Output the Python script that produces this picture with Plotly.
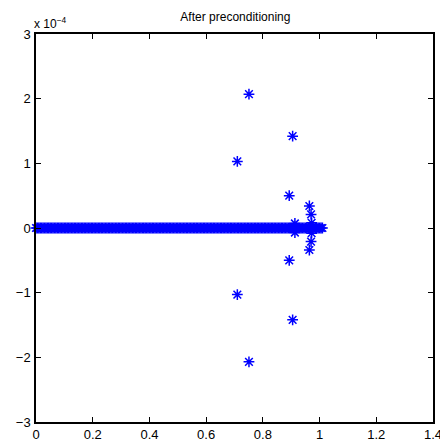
import plotly.graph_objects as go

# Isolated eigenvalues (real, imaginary parts)
outlier_re = [0.751, 0.905, 0.710, 0.710, 0.905, 0.751, 0.893, 0.964, 0.970, 0.972, 0.913, 0.913, 0.972, 0.970, 0.964, 0.893]
outlier_im = [2.07e-4, 1.42e-4, 1.03e-4, -1.03e-4, -1.42e-4, -2.07e-4, 0.50e-4, 0.34e-4, 0.21e-4, 0.08e-4, 0.07e-4, -0.07e-4, -0.08e-4, -0.21e-4, -0.34e-4, -0.50e-4]

# Clustered eigenvalues along the real axis
band_re = [0.000, 0.005, 0.010, 0.015, 0.020, 0.025, 0.030, 0.035, 0.040, 0.045,
           0.050, 0.055, 0.060, 0.065, 0.070, 0.075, 0.080, 0.085, 0.090, 0.095,
           0.100, 0.105, 0.110, 0.115, 0.120, 0.125, 0.130, 0.135, 0.140, 0.145,
           0.150, 0.155, 0.160, 0.165, 0.170, 0.175, 0.180, 0.185, 0.190, 0.195,
           0.200, 0.205, 0.210, 0.215, 0.220, 0.225, 0.230, 0.235, 0.240, 0.245,
           0.250, 0.255, 0.260, 0.265, 0.270, 0.275, 0.280, 0.285, 0.290, 0.295,
           0.300, 0.305, 0.310, 0.315, 0.320, 0.325, 0.330, 0.335, 0.340, 0.345,
           0.350, 0.355, 0.360, 0.365, 0.370, 0.375, 0.380, 0.385, 0.390, 0.395,
           0.400, 0.405, 0.410, 0.415, 0.420, 0.425, 0.430, 0.435, 0.440, 0.445,
           0.450, 0.455, 0.460, 0.465, 0.470, 0.475, 0.480, 0.485, 0.490, 0.495,
           0.500, 0.505, 0.510, 0.515, 0.520, 0.525, 0.530, 0.535, 0.540, 0.545,
           0.550, 0.555, 0.560, 0.565, 0.570, 0.575, 0.580, 0.585, 0.590, 0.595,
           0.600, 0.605, 0.610, 0.615, 0.620, 0.625, 0.630, 0.635, 0.640, 0.645,
           0.650, 0.655, 0.660, 0.665, 0.670, 0.675, 0.680, 0.685, 0.690, 0.695,
           0.700, 0.705, 0.710, 0.715, 0.720, 0.725, 0.730, 0.735, 0.740, 0.745,
           0.750, 0.755, 0.760, 0.765, 0.770, 0.775, 0.780, 0.785, 0.790, 0.795,
           0.800, 0.805, 0.810, 0.815, 0.820, 0.825, 0.830, 0.835, 0.840, 0.845,
           0.850, 0.855, 0.860, 0.865, 0.870, 0.875, 0.880, 0.885, 0.890, 0.895,
           0.900, 0.905, 0.910, 0.915, 0.920, 0.925, 0.930, 0.935, 0.940, 0.945,
           0.950, 0.955, 0.960, 0.965, 0.970, 0.975, 0.980, 0.985, 0.990, 0.995,
           1.000, 1.005, 1.010]
band_im = [0.0] * len(band_re)

x_ticks = [0, 0.2, 0.4, 0.6, 0.8, 1, 1.2, 1.4]
x_ticktext = ["0", "0.2", "0.4", "0.6", "0.8", "1", "1.2", "1.4"]
y_ticks = [-3e-4, -2e-4, -1e-4, 0, 1e-4, 2e-4, 3e-4]
y_ticktext = ["\u22123", "\u22122", "\u22121", "0", "1", "2", "3"]

blue = "rgb(0,0,255)"
marker = dict(symbol="asterisk-open", size=9, color=blue, line=dict(color=blue, width=1.5))

fig = go.Figure()
fig.add_trace(go.Scatter(x=band_re, y=band_im, mode="markers", marker=marker, showlegend=False, cliponaxis=False))
fig.add_trace(go.Scatter(x=outlier_re, y=outlier_im, mode="markers", marker=marker, showlegend=False))

FAM = "Liberation Sans, Arial, sans-serif"
font = dict(family=FAM, size=13, color="black")
axis_common = dict(showgrid=False, zeroline=False, showline=True, linecolor="black", linewidth=1.5,
                   mirror="ticks", ticks="inside", ticklen=5, tickcolor="black", tickwidth=1,
                   tickfont=font, automargin=False, ticklabeloverflow="allow")

fig.update_layout(
    width=440, height=444,
    margin=dict(l=36, r=7, t=34, b=22, autoexpand=False),
    paper_bgcolor="white", plot_bgcolor="white",
    title=dict(text="After preconditioning", x=0.535, xanchor="center", y=0.962, yanchor="middle",
               font=dict(family=FAM, size=12, color="black")),
    xaxis=dict(range=[0, 1.4], tickvals=x_ticks, ticktext=x_ticktext, **axis_common),
    yaxis=dict(range=[-3e-4, 3e-4], tickvals=y_ticks, ticktext=y_ticktext, ticklabelstandoff=1, **axis_common),
    annotations=[dict(text="x 10<sup>\u22124</sup>", xref="paper", yref="paper", x=0, y=1,
                      xanchor="left", yanchor="bottom", showarrow=False, yshift=1, xshift=-4,
                      font=dict(family=FAM, size=12, color="black"))],
)

fig.write_html("out.html", config={"displayModeBar": False},
               post_script="document.body.style.margin='0px';document.body.style.overflow='hidden';")
